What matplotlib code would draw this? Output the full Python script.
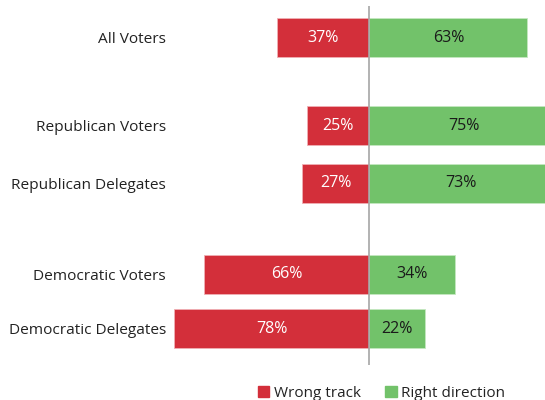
import matplotlib.pyplot as plt
from matplotlib.patches import Patch

plt.rcParams['font.family'] = ['Open Sans', 'DejaVu Sans']

groups = ['All Voters', 'Republican Voters', 'Republican Delegates',
          'Democratic Voters', 'Democratic Delegates']
wrong_track = [37, 25, 27, 66, 78]
right_direction = [63, 75, 73, 34, 22]

# row positions (extra space between the three blocks)
ypos = [0, 1.55, 2.56, 4.15, 5.11]

red = '#d32f3a'
green = '#72c26a'

fig = plt.figure(figsize=(5.45, 4.0), dpi=100)
ax = fig.add_axes([0.3095, 0.0875, 0.6905, 0.8975])

ax.barh(ypos, [-v for v in wrong_track], height=0.685, color=red,
        edgecolor='#f0b0b5', linewidth=0.6)
ax.barh(ypos, right_direction, height=0.685, color=green,
        edgecolor='#c5e8c0', linewidth=0.6)

for y, w, r in zip(ypos, wrong_track, right_direction):
    ax.text(-w / 2, y, f'{w}%', ha='center', va='center', color='white', fontsize=11.5)
    ax.text(r / 2, y, f'{r}%', ha='center', va='center', color='#1a1a1a', fontsize=11.5)

ax.axvline(0, color='#a6a6a6', linewidth=1.2)

ax.set_xlim(-80, 70)
ax.set_ylim(5.746, -0.553)
ax.set_yticks(ypos)
ax.set_yticklabels(groups, fontsize=11.1, color='#222222')
ax.tick_params(axis='y', length=0, pad=2)
ax.set_xticks([])
for s in ax.spines.values():
    s.set_visible(False)

handles = [Patch(color=red, label='Wrong track'),
           Patch(color=green, label='Right direction')]
fig.legend(handles=handles, loc='center', bbox_to_anchor=(0.70, 0.017), ncol=2,
           frameon=False, fontsize=11, handlelength=0.75, handleheight=0.75,
           handletextpad=0.3, columnspacing=1.6, labelcolor='#222222')

fig.savefig('out.png', dpi=100)
